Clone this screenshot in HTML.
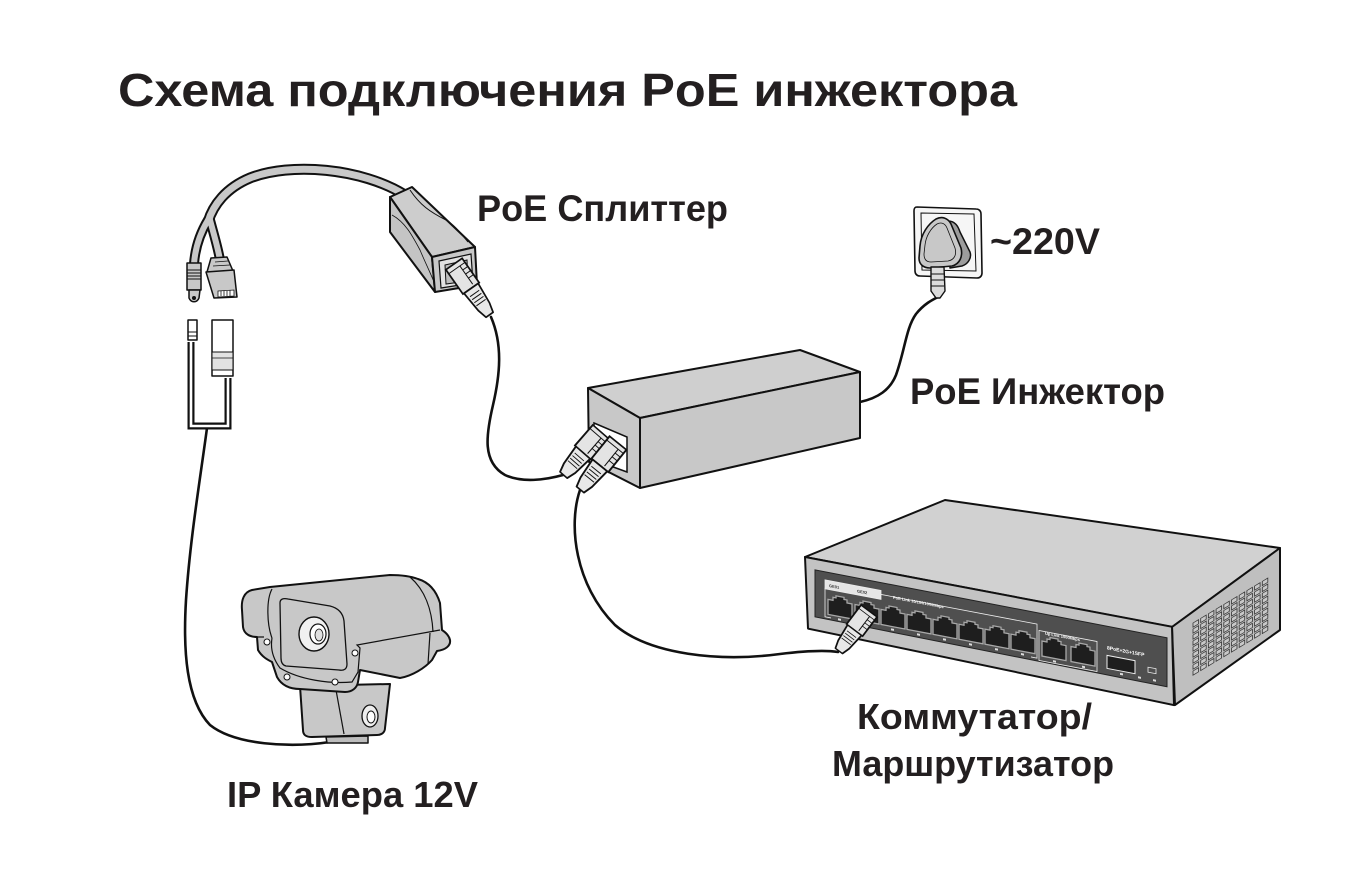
<!DOCTYPE html>
<html><head><meta charset="utf-8">
<style>
html,body{margin:0;padding:0;background:#fff;}
svg{display:block;}
text{font-family:"Liberation Sans","DejaVu Sans",sans-serif;font-weight:bold;fill:#231f20;}
.s{stroke:#111;stroke-linejoin:round;stroke-linecap:round;}
</style></head>
<body>
<svg width="1356" height="892" viewBox="0 0 1356 892" xmlns="http://www.w3.org/2000/svg">
<defs>
 <g id="plug">
  <rect x="0" y="-8" width="24" height="16" fill="#e4e4e4" stroke="#111" stroke-width="1.4"/>
  <path d="M4,-8 L4,8 M4,-3 L22,-3 M8,-8 L8,-3 M12,-8 L12,-3 M16,-8 L16,-3" stroke="#111" stroke-width="0.8" fill="none"/>
  <path d="M24,-7 L42,-5.5 L50,-3.5 L50,3.5 L42,5.5 L24,7 Z" fill="#e8e8e8" stroke="#111" stroke-width="1.4" stroke-linejoin="round"/>
  <path d="M29,-4.5 L29,4.5 M32,-4.5 L32,4.5 M35,-4.5 L35,4.5 M38,-4.5 L38,4.5" stroke="#111" stroke-width="0.8"/>
 </g>
 <path id="port" d="M0,5 L5,5 L5,2 L8,2 L8,0 L16,0 L16,2 L19,2 L19,5 L24,5 L24,20 L0,20 Z"/>
</defs>

<!-- Title -->
<text x="118" y="106" font-size="46" textLength="899" lengthAdjust="spacingAndGlyphs">Схема подключения PoE инжектора</text>

<!-- ===== Cables ===== -->
<g fill="none" class="s" stroke-width="2.6">
 <path d="M491,317 C503,345 500,375 493,405 C486,435 482,462 505,475 C522,483 545,480 563,475"/>
 <path d="M580,490 C568,525 575,585 615,625 C650,655 720,662 780,654 C805,651 825,650 838,652"/>
 <path d="M860,402 C878,398 890,390 896,375 C905,350 906,328 916,314 C924,304 932,300 938,297"/>
 <path d="M207,428 C200,480 190,540 186,600 C183,650 186,700 210,725 C235,745 290,748 330,742"/>
</g>

<!-- Splitter tail cable (tube) -->
<g fill="none" stroke-linecap="round">
 <path d="M405,195 C362,168 290,162 250,178 C226,188 213,205 208,222" stroke="#111" stroke-width="11"/>
 <path d="M208,220 C199,235 195,250 194,264" stroke="#111" stroke-width="10"/>
 <path d="M210,220 C214,235 218,248 220,260" stroke="#111" stroke-width="10"/>
 <path d="M405,195 C362,168 290,162 250,178 C226,188 213,205 208,222" stroke="#c8c8c8" stroke-width="7"/>
 <path d="M208,220 C199,235 195,250 194,264" stroke="#c8c8c8" stroke-width="6"/>
 <path d="M210,220 C214,235 218,248 220,260" stroke="#c8c8c8" stroke-width="6"/>
</g>

<!-- DC male plug -->
<path d="M187,263 L201,263 L201,290 L187,290 Z" fill="#c8c8c8" class="s" stroke-width="1.5"/>
<path d="M187,270 L201,270 M187,273 L201,273 M187,276 L201,276 M187,279 L201,279" stroke="#111" stroke-width="1"/>
<path d="M189,290 L200,290 L199,298 C197,303 191,303 189,298 Z" fill="#c8c8c8" class="s" stroke-width="1.5"/>
<circle cx="194" cy="298" r="2" fill="#111"/>

<!-- RJ45 male plug (tail) -->
<path d="M211,258 L227,257 L233,271 L207,272 Z" fill="#c8c8c8" class="s" stroke-width="1.5"/>
<path d="M215,262 L228,261 M213,266 L230,265" stroke="#111" stroke-width="0.8"/>
<path d="M206,272 L234,270 L237,297 L214,298 Z" fill="#c8c8c8" class="s" stroke-width="1.5"/>
<path d="M218,291 L234,290 L234,296 L218,297 Z" fill="#fff" stroke="#111" stroke-width="0.8"/>
<path d="M221,291 L221,296 M224,291 L224,296 M227,291 L227,296 M230,290 L230,296" stroke="#111" stroke-width="0.8"/>

<!-- female parts -->
<path d="M191,342 L191,426 L228,426 L228,378" fill="none" stroke="#111" stroke-width="7" stroke-linejoin="miter"/>
<path d="M191,342 L191,426 L228,426 L228,378" fill="none" stroke="#fff" stroke-width="2.6" stroke-linejoin="miter"/>
<path d="M188,320 L197,320 L197,340 L188,340 Z" fill="#fff" class="s" stroke-width="1.5"/>
<path d="M188,332 L197,332 M188,336 L197,336" stroke="#111" stroke-width="1"/>
<path d="M212,320 L233,320 L233,376 L212,376 Z" fill="#fff" class="s" stroke-width="1.5"/>
<path d="M212,352 L233,352 L233,370 L212,370 Z" fill="#e2e2e2" stroke="#111" stroke-width="1"/>
<path d="M212,358 L233,358" stroke="#111" stroke-width="0.8"/>

<!-- ===== Splitter box ===== -->
<polygon points="390,197 412,187 475,247 432,257" fill="#cdcdcd" class="s" stroke-width="2"/>
<polygon points="390,197 432,257 435,292 390,232" fill="#c4c4c4" class="s" stroke-width="2"/>
<polygon points="432,257 475,247 477,285 435,292" fill="#c8c8c8" class="s" stroke-width="2"/>
<path d="M410,190 C420,205 430,212 446,220 C456,226 462,235 468,242" fill="none" stroke="#111" stroke-width="1"/>
<path d="M392,215 C405,222 412,235 420,250 C425,262 430,272 434,282" fill="none" stroke="#111" stroke-width="0.8"/>
<polygon points="439,261 471,254 473,283 441,288" fill="#e2e2e2" stroke="#111" stroke-width="1.2"/>
<polygon points="445,265 467,260 468,281 446,284" fill="#bdbdbd" stroke="#111" stroke-width="1"/>
<use href="#plug" transform="translate(454,264) rotate(55) scale(1.24)"/>

<!-- ===== Injector ===== -->
<polygon points="588,388 800,350 860,372 640,418" fill="#cfcfcf" class="s" stroke-width="2"/>
<polygon points="640,418 860,372 860,438 640,488" fill="#c8c8c8" class="s" stroke-width="2"/>
<polygon points="588,388 640,418 640,488 589,462" fill="#c8c8c8" class="s" stroke-width="2"/>
<polygon points="594,423 627,437 627,472 594,460" fill="#fff" stroke="#111" stroke-width="1.5"/>
<use href="#plug" transform="translate(601,432) rotate(131) scale(1.14,1.35)"/>
<use href="#plug" transform="translate(618,443) rotate(129) scale(1.2,1.35)"/>

<!-- ===== Wall socket & plug ===== -->
<path d="M917,207 L976,209 C979,209 981,211 981,214 L982,273 C982,276 980,278 977,278 L920,276 C917,276 915,274 915,271 L914,211 C914,208 915,207 917,207 Z" fill="#f6f6f6" class="s" stroke-width="1.6"/>
<path d="M921,213 L974,214 L976,271 L922,270 Z" fill="none" stroke="#111" stroke-width="1"/>
<path d="M948,221 C955,221 958,226 960,232 L970,252 C972,258 968,264 962,266 L950,268 Z" fill="#9c9c9c" class="s" stroke-width="1.5"/>
<path d="M936,219 C942,216 948,218 951,224 L961,248 C963,256 960,264 952,266 L930,268 C923,268 919,264 919,258 L920,246 C921,234 928,224 936,219 Z" fill="#c8c8c8" class="s" stroke-width="1.6"/>
<path d="M937,224 C941,222 945,223 947,228 L955,248 C957,255 954,260 948,261 L931,262 C926,262 924,259 924,254 L925,245 C926,236 931,228 937,224 Z" fill="none" stroke="#111" stroke-width="0.8"/>
<path d="M931,267 L944,267 L945,291 L940,298 L936,298 L931,291 Z" fill="#dcdcdc" class="s" stroke-width="1.4"/>
<path d="M931,274 L944,274 M931,280 L944,280 M931,286 L944,286" stroke="#111" stroke-width="1"/>

<!-- ===== Switch ===== -->
<polygon points="805,557 945,500 1280,548 1172,627" fill="#d1d1d1" class="s" stroke-width="2"/>
<polygon points="1172,627 1280,548 1280,630 1175,705" fill="#bfbfbf" class="s" stroke-width="2"/>
<g transform="translate(1193,623) skewY(-31)">
 <g fill="#c8c8c8" stroke="#333" stroke-width="0.8">
  <rect x="0" y="0" width="5.5" height="4.2"/><rect x="7.7" y="0" width="5.5" height="4.2"/><rect x="15.4" y="0" width="5.5" height="4.2"/><rect x="23.1" y="0" width="5.5" height="4.2"/><rect x="30.8" y="0" width="5.5" height="4.2"/><rect x="38.5" y="0" width="5.5" height="4.2"/><rect x="46.2" y="0" width="5.5" height="4.2"/><rect x="53.9" y="0" width="5.5" height="4.2"/><rect x="61.6" y="0" width="5.5" height="4.2"/><rect x="69.3" y="0" width="5.5" height="4.2"/>
  <rect x="0" y="6" width="5.5" height="4.2"/><rect x="7.7" y="6" width="5.5" height="4.2"/><rect x="15.4" y="6" width="5.5" height="4.2"/><rect x="23.1" y="6" width="5.5" height="4.2"/><rect x="30.8" y="6" width="5.5" height="4.2"/><rect x="38.5" y="6" width="5.5" height="4.2"/><rect x="46.2" y="6" width="5.5" height="4.2"/><rect x="53.9" y="6" width="5.5" height="4.2"/><rect x="61.6" y="6" width="5.5" height="4.2"/><rect x="69.3" y="6" width="5.5" height="4.2"/>
  <rect x="0" y="12" width="5.5" height="4.2"/><rect x="7.7" y="12" width="5.5" height="4.2"/><rect x="15.4" y="12" width="5.5" height="4.2"/><rect x="23.1" y="12" width="5.5" height="4.2"/><rect x="30.8" y="12" width="5.5" height="4.2"/><rect x="38.5" y="12" width="5.5" height="4.2"/><rect x="46.2" y="12" width="5.5" height="4.2"/><rect x="53.9" y="12" width="5.5" height="4.2"/><rect x="61.6" y="12" width="5.5" height="4.2"/><rect x="69.3" y="12" width="5.5" height="4.2"/>
  <rect x="0" y="18" width="5.5" height="4.2"/><rect x="7.7" y="18" width="5.5" height="4.2"/><rect x="15.4" y="18" width="5.5" height="4.2"/><rect x="23.1" y="18" width="5.5" height="4.2"/><rect x="30.8" y="18" width="5.5" height="4.2"/><rect x="38.5" y="18" width="5.5" height="4.2"/><rect x="46.2" y="18" width="5.5" height="4.2"/><rect x="53.9" y="18" width="5.5" height="4.2"/><rect x="61.6" y="18" width="5.5" height="4.2"/><rect x="69.3" y="18" width="5.5" height="4.2"/>
  <rect x="0" y="24" width="5.5" height="4.2"/><rect x="7.7" y="24" width="5.5" height="4.2"/><rect x="15.4" y="24" width="5.5" height="4.2"/><rect x="23.1" y="24" width="5.5" height="4.2"/><rect x="30.8" y="24" width="5.5" height="4.2"/><rect x="38.5" y="24" width="5.5" height="4.2"/><rect x="46.2" y="24" width="5.5" height="4.2"/><rect x="53.9" y="24" width="5.5" height="4.2"/><rect x="61.6" y="24" width="5.5" height="4.2"/><rect x="69.3" y="24" width="5.5" height="4.2"/>
  <rect x="0" y="30" width="5.5" height="4.2"/><rect x="7.7" y="30" width="5.5" height="4.2"/><rect x="15.4" y="30" width="5.5" height="4.2"/><rect x="23.1" y="30" width="5.5" height="4.2"/><rect x="30.8" y="30" width="5.5" height="4.2"/><rect x="38.5" y="30" width="5.5" height="4.2"/><rect x="46.2" y="30" width="5.5" height="4.2"/><rect x="53.9" y="30" width="5.5" height="4.2"/><rect x="61.6" y="30" width="5.5" height="4.2"/><rect x="69.3" y="30" width="5.5" height="4.2"/>
  <rect x="0" y="36" width="5.5" height="4.2"/><rect x="7.7" y="36" width="5.5" height="4.2"/><rect x="15.4" y="36" width="5.5" height="4.2"/><rect x="23.1" y="36" width="5.5" height="4.2"/><rect x="30.8" y="36" width="5.5" height="4.2"/><rect x="38.5" y="36" width="5.5" height="4.2"/><rect x="46.2" y="36" width="5.5" height="4.2"/><rect x="53.9" y="36" width="5.5" height="4.2"/><rect x="61.6" y="36" width="5.5" height="4.2"/><rect x="69.3" y="36" width="5.5" height="4.2"/>
  <rect x="0" y="42" width="5.5" height="4.2"/><rect x="7.7" y="42" width="5.5" height="4.2"/><rect x="15.4" y="42" width="5.5" height="4.2"/><rect x="23.1" y="42" width="5.5" height="4.2"/><rect x="30.8" y="42" width="5.5" height="4.2"/><rect x="38.5" y="42" width="5.5" height="4.2"/><rect x="46.2" y="42" width="5.5" height="4.2"/><rect x="53.9" y="42" width="5.5" height="4.2"/><rect x="61.6" y="42" width="5.5" height="4.2"/><rect x="69.3" y="42" width="5.5" height="4.2"/>
  <rect x="0" y="48" width="5.5" height="4.2"/><rect x="7.7" y="48" width="5.5" height="4.2"/><rect x="15.4" y="48" width="5.5" height="4.2"/><rect x="23.1" y="48" width="5.5" height="4.2"/><rect x="30.8" y="48" width="5.5" height="4.2"/><rect x="38.5" y="48" width="5.5" height="4.2"/><rect x="46.2" y="48" width="5.5" height="4.2"/><rect x="53.9" y="48" width="5.5" height="4.2"/><rect x="61.6" y="48" width="5.5" height="4.2"/><rect x="69.3" y="48" width="5.5" height="4.2"/>
 </g>
</g>
<g transform="translate(805,557) skewY(10.76)">
 <path d="M0,0 L367,0 L369,78 L3,71 Z" fill="#c3c3c3" stroke="#111" stroke-width="2" stroke-linejoin="round"/>
 <path d="M10,11 L362,12 L362,61 L10,58 Z" fill="#4f4f4f" stroke="#222" stroke-width="1"/>
 <rect x="20" y="19" width="56" height="9" fill="#e6e6e6" stroke="#eee" stroke-width="0.8"/>
 <path d="M76,23 L232,23 L232,57 L226,57 M20,27 L20,56 L26,56" fill="none" stroke="#eee" stroke-width="0.8"/>
 <rect x="234" y="29" width="58" height="30" fill="none" stroke="#eee" stroke-width="0.8"/>
 <text x="24" y="25.5" font-size="4" style="fill:#333">GE01</text>
 <text x="52" y="25.5" font-size="4" style="fill:#333">GE02</text>
 <text x="88" y="25" font-size="4" style="fill:#fff">PoE Link 10/100/1000Mbps</text>
 <text x="240" y="32" font-size="4" style="fill:#fff">Up Link 1000Mbps</text>
 <text x="302" y="35" font-size="5" style="fill:#fff">8PoE+2G+1SFP</text>
 <g fill="#1e1e1e" stroke="#a8a8a8" stroke-width="1.3">
  <use href="#port" x="23" y="33"/>
  <use href="#port" x="50" y="33"/>
  <use href="#port" x="76" y="33"/>
  <use href="#port" x="102" y="33"/>
  <use href="#port" x="128" y="33"/>
  <use href="#port" x="154" y="33"/>
  <use href="#port" x="180" y="33"/>
  <use href="#port" x="206" y="33"/>
  <use href="#port" x="237" y="34"/>
  <use href="#port" x="266" y="34"/>
 </g>
 <rect x="302" y="41" width="28" height="13" fill="#1e1e1e" stroke="#eee" stroke-width="1"/>
 <rect x="343" y="45" width="8" height="5" fill="none" stroke="#eee" stroke-width="0.8"/>
 <g fill="#ddd">
  <rect x="33" y="55" width="3" height="2"/><rect x="60" y="55" width="3" height="2"/><rect x="86" y="55" width="3" height="2"/><rect x="112" y="55" width="3" height="2"/><rect x="138" y="55" width="3" height="2"/><rect x="164" y="55" width="3" height="2"/><rect x="190" y="55" width="3" height="2"/><rect x="216" y="55" width="3" height="2"/><rect x="248" y="56" width="3" height="2"/><rect x="277" y="56" width="3" height="2"/><rect x="315" y="56" width="3" height="2"/><rect x="333" y="56" width="3" height="2"/><rect x="348" y="56" width="3" height="2"/>
 </g>
</g>
<use href="#plug" transform="translate(869,611) rotate(127) scale(1.0,1.25)"/>

<!-- ===== Camera ===== -->
<path d="M300,686 L303,730 C303,735 306,737 312,737 L377,735 C382,735 385,732 385,728 L390,684 Z" fill="#c8c8c8" class="s" stroke-width="2"/>
<path d="M326,737 L368,736 L368,743 L327,743 Z" fill="#bdbdbd" class="s" stroke-width="1.5"/>
<path d="M336,690 L344,734" stroke="#111" stroke-width="1.2"/>
<ellipse cx="370" cy="716" rx="8" ry="11" fill="#eee" stroke="#111" stroke-width="1.3"/>
<ellipse cx="371" cy="717" rx="4" ry="6" fill="#fff" stroke="#111" stroke-width="1"/>
<path d="M252,590 C244,592 241,600 242,610 L243,627 C244,634 250,637 257,637 L258,650 C262,657 268,660 272,662 L277,677 C282,686 290,689 300,689 L345,692 C352,692 357,688 358,682 L360,670 L400,678 C412,676 425,668 432,660 L437,651 C445,650 451,646 450,640 C449,635 445,632 442,630 L440,603 C436,590 428,582 418,579 C410,576 400,575 390,575 L270,587 Z" fill="#c8c8c8" class="s" stroke-width="2"/>
<path d="M272,589 C266,600 267,625 272,638" fill="none" stroke="#111" stroke-width="1.2"/>
<path d="M257,637 L264,637 M272,638 C270,650 274,660 280,668 C300,680 330,684 352,682 L358,672 L360,648 L357,645 L440,630" fill="none" stroke="#111" stroke-width="1.2"/>
<path d="M410,577 C425,590 432,610 433,632 M430,633 L428,664" fill="none" stroke="#111" stroke-width="1.2"/>
<path d="M280,603 C280,599 283,598 288,599 L330,606 C338,608 343,613 344,621 L347,664 C347,669 344,671 339,670 L286,666 C282,665 281,662 281,658 Z" fill="#c8c8c8" stroke="#111" stroke-width="1.3"/>
<ellipse cx="314" cy="634" rx="15" ry="17" fill="#f0f0f0" stroke="#111" stroke-width="1.4"/>
<ellipse cx="318" cy="634" rx="8" ry="10" fill="#fff" stroke="#111" stroke-width="1.2"/>
<ellipse cx="319" cy="635" rx="4" ry="6" fill="#e0e0e0" stroke="#111" stroke-width="0.8"/>
<g fill="#fff" stroke="#111" stroke-width="1">
 <circle cx="267" cy="642" r="3"/><circle cx="287" cy="677" r="3"/><circle cx="335" cy="682" r="3"/><circle cx="355" cy="653" r="3"/>
</g>

<!-- ===== Labels ===== -->
<text x="477" y="221" font-size="37" textLength="251" lengthAdjust="spacingAndGlyphs">PoE Сплиттер</text>
<text x="990" y="254" font-size="37" textLength="110" lengthAdjust="spacingAndGlyphs">~220V</text>
<text x="910" y="404" font-size="37" textLength="255" lengthAdjust="spacingAndGlyphs">PoE Инжектор</text>
<text x="857" y="729" font-size="36" textLength="235" lengthAdjust="spacingAndGlyphs">Коммутатор/</text>
<text x="832" y="776" font-size="36" textLength="282" lengthAdjust="spacingAndGlyphs">Маршрутизатор</text>
<text x="227" y="807" font-size="36" textLength="251" lengthAdjust="spacingAndGlyphs">IP Камера 12V</text>
</svg>
</body></html>
